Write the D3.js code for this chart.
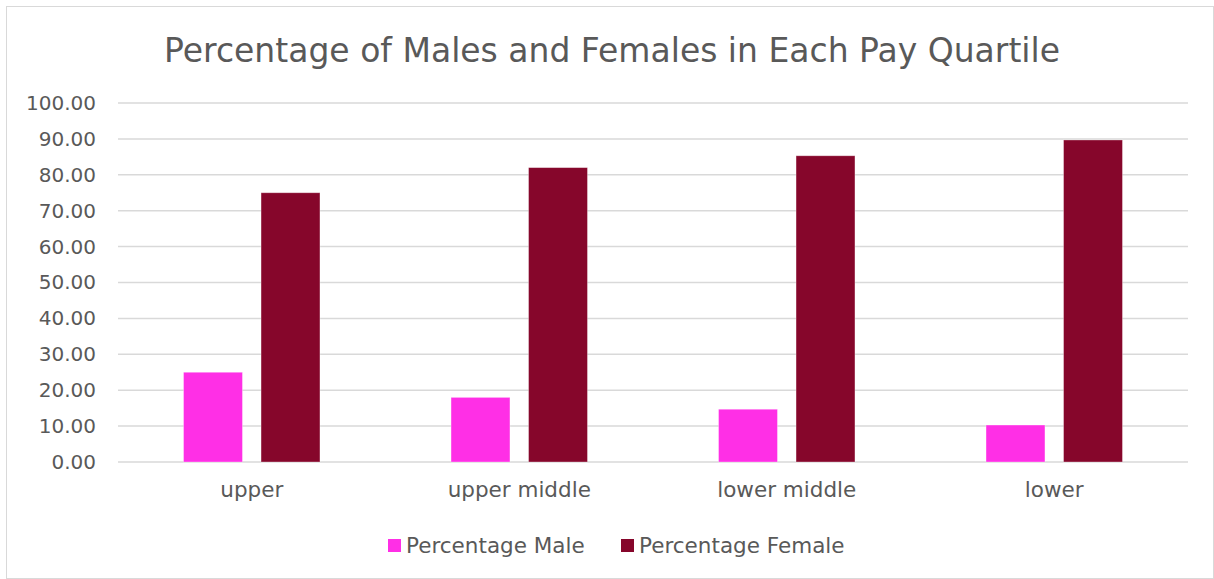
<!DOCTYPE html>
<html>
<head>
<meta charset="utf-8">
<script src="https://cdn.jsdelivr.net/npm/d3@7"></script>
<style>
  body { margin: 0; background: #fff; }
  text { font-family: "DejaVu Sans", sans-serif; fill: #595959; }
</style>
</head>
<body>
<div id="chart"></div>
<script>
// data
const categories = ["upper", "upper middle", "lower middle", "lower"];
const seriesNames = ["Percentage Male", "Percentage Female"];
const maleValues = [25.0, 18.0, 14.7, 10.3];
const femaleValues = [75.0, 82.0, 85.3, 89.7];
const yTicks = [0, 10, 20, 30, 40, 50, 60, 70, 80, 90, 100];
const colors = ["#FF2FE6", "#86062B"];

// set the dimensions and margins of the graph
let W = 1214, H = 579;
let margin = {top: 103, right: 26, bottom: 117, left: 118};
let width = W - margin.left - margin.right,
    height = H - margin.top - margin.bottom;

let svg = d3.select("#chart")
  .append("svg")
    .attr("width", W)
    .attr("height", H);

// chart border
svg.append("rect")
  .attr("x", 6.5).attr("y", 6.5)
  .attr("width", W - 7).attr("height", H - 7)
  .attr("fill", "none")
  .attr("stroke", "#d9d9d9")
  .attr("stroke-width", 1);

// title
svg.append("text")
  .attr("x", 612)
  .attr("y", 62)
  .attr("text-anchor", "middle")
  .style("font-size", "33px")
  .text("Percentage of Males and Females in Each Pay Quartile");

let g = svg.append("g")
  .attr("transform", "translate(" + margin.left + "," + margin.top + ")");

// scales
const X_SCALE = d3.scaleBand()
  .domain(categories)
  .range([0, width])
  .paddingInner(0.49)
  .paddingOuter(0.245);

const X_SUB = d3.scaleBand()
  .domain(seriesNames)
  .range([0, X_SCALE.bandwidth()])
  .paddingInner(0.24);

const Y_SCALE = d3.scaleLinear()
  .domain([0, 100])
  .range([height, 0]);

// gridlines
g.append("g")
  .selectAll("line")
  .data(yTicks)
  .enter()
  .append("line")
    .attr("x1", 0)
    .attr("x2", width)
    .attr("y1", d => Y_SCALE(d))
    .attr("y2", d => Y_SCALE(d))
    .attr("stroke", "#d9d9d9")
    .attr("stroke-width", 1.5);

// y axis labels
let yAxis = g.append("g")
  .call(d3.axisLeft(Y_SCALE).tickValues(yTicks).tickFormat(d3.format(".2f")).tickSize(0).tickPadding(22));
yAxis.select(".domain").remove();
yAxis.selectAll("text")
  .style("font-size", "20px")
  .attr("fill", "#595959");

// x axis labels
let xAxis = g.append("g")
  .attr("transform", "translate(0," + height + ")")
  .call(d3.axisBottom(X_SCALE).tickSize(0).tickPadding(20));
xAxis.select(".domain").remove();
xAxis.selectAll("text")
  .style("font-size", "21.5px")
  .attr("fill", "#595959");

// bars
const rows = categories.map((c, i) => ({cat: c, vals: [maleValues[i], femaleValues[i]]}));

let groups = g.selectAll(".grp")
  .data(rows)
  .enter()
  .append("g")
    .attr("class", "grp")
    .attr("transform", d => "translate(" + X_SCALE(d.cat) + ",0)");

groups.selectAll("rect")
  .data(d => d.vals.map((v, j) => ({name: seriesNames[j], value: v, j: j})))
  .enter()
  .append("rect")
    .attr("x", d => X_SUB(d.name))
    .attr("y", d => Y_SCALE(d.value))
    .attr("width", X_SUB.bandwidth())
    .attr("height", d => height - Y_SCALE(d.value))
    .attr("fill", d => colors[d.j])
    .attr("stroke", "#ffffff")
    .attr("stroke-opacity", 0.4)
    .attr("stroke-width", 0.8);

// legend
const legendX = [388, 621];
let legend = svg.append("g");
seriesNames.forEach((name, i) => {
  legend.append("rect")
    .attr("x", legendX[i])
    .attr("y", 539)
    .attr("width", 13)
    .attr("height", 13)
    .attr("fill", colors[i]);
  legend.append("text")
    .attr("x", legendX[i] + 18)
    .attr("y", 553)
    .style("font-size", "21.5px")
    .text(name);
});
</script>
</body>
</html>
